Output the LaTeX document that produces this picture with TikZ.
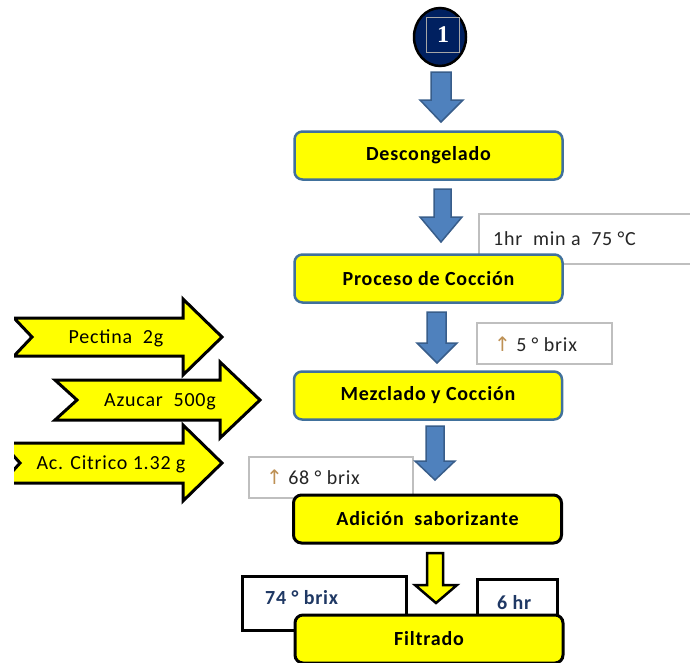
\documentclass[tikz,border=0pt]{standalone}
\usepackage{fontspec}
\usetikzlibrary{shapes.geometric}
\setmainfont{Carlito}[LetterSpace=4]
\newfontfamily\symfont{DejaVu Sans}
\newfontfamily\numfont{Liberation Serif}
\definecolor{yfill}{RGB}{255,255,0}
\definecolor{boxblue}{RGB}{65,113,156}
\definecolor{arrfill}{RGB}{79,129,189}
\definecolor{arrline}{RGB}{56,93,138}
\definecolor{navy}{RGB}{0,32,96}
\definecolor{notegray}{RGB}{191,191,191}
\definecolor{notetext}{RGB}{38,38,38}
\definecolor{dblue}{RGB}{31,56,100}
\definecolor{uptan}{RGB}{190,145,85}
\tikzset{
  bluebox/.style={draw=boxblue, line width=2.5pt, fill=yfill, rounded corners=8pt,
    minimum width=268pt, minimum height=48pt, inner sep=0pt,
    font=\fontsize{20}{22}\selectfont\bfseries},
  blackbox/.style={bluebox, draw=black, line width=3pt},
  notebox/.style={draw=notegray, line width=1.5pt, fill=white},
  thicknote/.style={draw=black, line width=3pt, fill=white},
  notetxt/.style={anchor=west, inner sep=0pt, text=notetext, font=\fontsize{20}{22}\selectfont},
  boldnotetxt/.style={anchor=west, inner sep=0pt, text=dblue, font=\fontsize{20}{22}\selectfont\bfseries},
  blockarrow/.style={fill=arrfill, draw=arrline, line width=1.5pt, line join=miter},
  yarrow/.style={fill=yfill, draw=black, line width=3pt, line join=miter},
  arrtxt/.style={inner sep=0pt, text=black, font=\fontsize{20}{22}\selectfont}
}
\begin{document}
\begin{tikzpicture}[x=1pt,y=-1pt]
\useasboundingbox (0,0) rectangle (690,662);
\clip (0,0) rectangle (690,662);

% start connector circle
\node[ellipse, draw=black, line width=2.5pt, fill=navy, minimum width=52pt, minimum height=58pt, inner sep=0pt] (start) at (440,37) {};
\node[draw=gray!70, line width=1.2pt, fill=navy, minimum width=33pt, minimum height=35pt, inner sep=0pt,
  text=white, font=\numfont\bfseries\fontsize{24}{24}\selectfont] (one) at (443,35) {\raisebox{-3pt}{1}};

% notes (behind the boxes)
\draw[notebox] (479,214) rectangle (700,264);
\node[notetxt] (n1) at (493,239) {1hr~~min a~~75 °C};
\draw[notebox] (477,323) rectangle (612,364);
\node[notetxt] (n2) at (494,344) {{\symfont\color{uptan}↑}~5 ° brix};
\draw[notebox] (249,457) rectangle (413,498);
\node[notetxt] (n3) at (266,477) {{\symfont\color{uptan}↑}~68 ° brix};
\draw[thicknote] (242,576) rectangle (406,630);
\node[boldnotetxt] (n4) at (265,598) {74 ° brix};
\draw[thicknote] (477,579) rectangle (557,630);
\node[boldnotetxt] (n5) at (497,603) {6 hr};

% process boxes
\node[bluebox] (desc) at (428.5,155.5) {Descongelado};
\node[bluebox] (proc) at (428.5,278.5) {Proceso de Cocción};
\node[bluebox] (mezc) at (428,395.5) {Mezclado y Cocción};
\node[blackbox] (adic) at (427.5,519) {Adición~~saborizante};
\node[blackbox] (filt) at (429,639) {Filtrado};

% blue block arrows
\draw[blockarrow] (431,72) -- (451,72) -- (451,100) -- (463,100) -- (441,122) -- (420,100) -- (431,100) -- cycle;
\draw[blockarrow] (434,189) -- (451,189) -- (451,217) -- (462,217) -- (441,242) -- (420,217) -- (434,217) -- cycle;
\draw[blockarrow] (427,312) -- (446,312) -- (446,343) -- (457,343) -- (437,363) -- (417,343) -- (427,343) -- cycle;
\draw[blockarrow] (426,426) -- (444,426) -- (444,461) -- (455,461) -- (435,480) -- (415,461) -- (426,461) -- cycle;

% yellow block arrow
\draw[yarrow, line width=2.5pt] (427,553) -- (443,553) -- (443,585) -- (457,585) -- (436,603) -- (415,585) -- (427,585) -- cycle;

% left yellow notched arrows
\begin{scope}
\clip (14,0) rectangle (690,662);
\draw[yarrow] (14,318) -- (183,318) -- (183,299) -- (222,337) -- (183,375) -- (183,356) -- (14,356) -- (32,337) -- cycle;
\draw[yarrow] (55,380) -- (220,380) -- (220,362) -- (260,400) -- (220,438) -- (220,420) -- (55,420) -- (77,400) -- cycle;
\draw[yarrow] (2,443) -- (183,443) -- (183,425) -- (222,463) -- (183,501) -- (183,483) -- (2,483) -- (20,463) -- cycle;
\end{scope}
\node[arrtxt] (pect) at (116,338) {Pectina~~2g};
\node[arrtxt] (azuc) at (160,402) {Azucar~~500g};
\node[arrtxt] (citr) at (111,464) {Ac. Citrico 1.32 g};
\end{tikzpicture}
\end{document}
